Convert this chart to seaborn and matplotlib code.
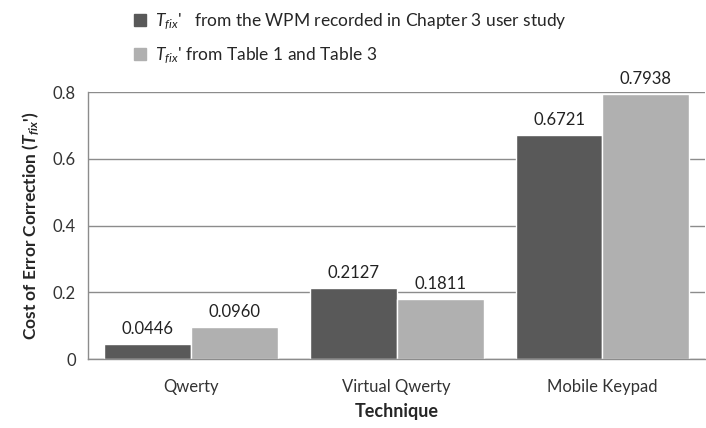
import matplotlib
matplotlib.use("Agg")
import matplotlib.pyplot as plt
import matplotlib.patches as mpatches
import pandas as pd
import seaborn as sns

techniques = ["Qwerty", "Virtual Qwerty", "Mobile Keypad"]
tfix_wpm = [0.0446, 0.2127, 0.6721]
tfix_tables = [0.0960, 0.1811, 0.7938]
series_names = [
    r"$T_{fix}$'   from the WPM recorded in Chapter 3 user study",
    r"$T_{fix}$' from Table 1 and Table 3",
]
colors = ["#595959", "#b0b0b0"]

df = pd.DataFrame({
    "Technique": techniques * 2,
    "Value": tfix_wpm + tfix_tables,
    "Series": [series_names[0]] * 3 + [series_names[1]] * 3,
})

sns.set_style("white")
plt.rcParams["font.family"] = ["Lato", "DejaVu Sans"]
plt.rcParams["mathtext.fontset"] = "custom"
plt.rcParams["mathtext.it"] = "Lato:italic"
plt.rcParams["mathtext.bfit"] = "Lato:bold:italic"
plt.rcParams["mathtext.rm"] = "Lato"

fig = plt.figure(figsize=(7.06, 4.28), dpi=100)
ax = fig.add_axes([0.125, 0.161, 0.874, 0.624])

sns.barplot(data=df, x="Technique", y="Value", hue="Series",
            palette=colors, width=0.845, gap=0, saturation=1,
            legend=False, ax=ax)

for cont in ax.containers:
    ax.bar_label(cont, fmt="%.4f", padding=5, fontsize=12, color="#222222")

ax.set_ylim(0, 0.8)
ax.set_yticks([0, 0.2, 0.4, 0.6, 0.8])
ax.set_yticklabels(["0", "0.2", "0.4", "0.6", "0.8"])
ax.yaxis.grid(True, color="#8c8c8c", linewidth=1)
ax.set_axisbelow(True)
ax.tick_params(axis="y", length=5, color="#8c8c8c", labelsize=12, labelcolor="#333333", pad=4)
ax.tick_params(axis="x", length=0, labelsize=12, labelcolor="#333333", pad=14)
for side in ["top", "right"]:
    ax.spines[side].set_visible(False)
for side in ["left", "bottom"]:
    ax.spines[side].set_color("#8c8c8c")
    ax.spines[side].set_linewidth(1)

ax.set_xlabel("Technique", fontsize=13, fontweight="bold", labelpad=6)
ax.set_ylabel(r"Cost of Error Correction ($\mathbfit{T_{fix}}$')", fontsize=12.5,
              fontweight="bold", labelpad=8)

handles = [mpatches.Patch(color=c) for c in colors]
fig.legend(handles, series_names, loc="upper left", bbox_to_anchor=(0.168, 1.01),
           frameon=False, fontsize=12.5, handlelength=0.7, handleheight=0.7,
           handletextpad=0.5, labelspacing=0.8)

fig.savefig("out.png", dpi=100)
